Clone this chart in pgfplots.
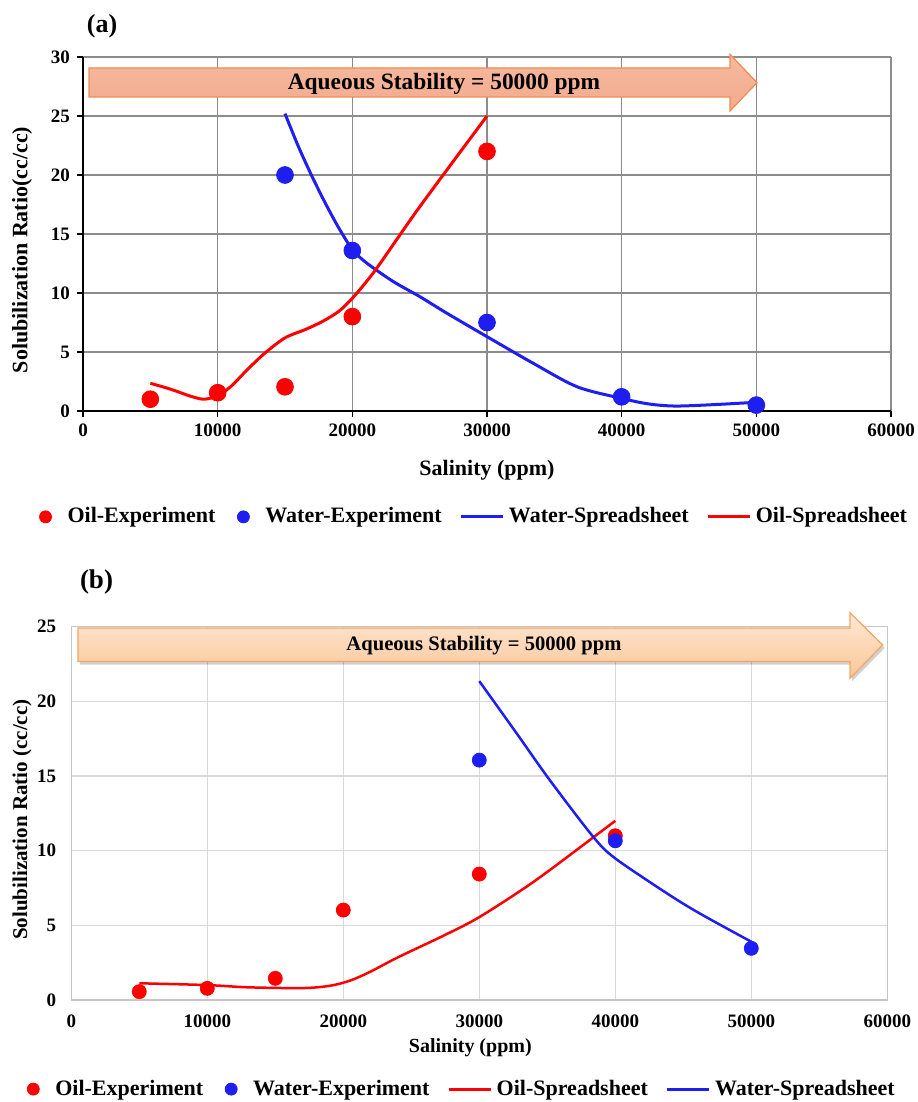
\documentclass[border=0pt]{standalone}
\usepackage{fontspec}
\setmainfont{Liberation Serif}
\usepackage{pgfplots}
\pgfplotsset{compat=1.18}

\definecolor{oilred}{RGB}{255,0,0}
\definecolor{wblue}{RGB}{30,30,240}
\definecolor{gridA}{RGB}{140,140,140}
\definecolor{gridB}{RGB}{217,217,217}
\definecolor{arrAtop}{RGB}{246,186,160}
\definecolor{arrAbot}{RGB}{242,170,140}
\definecolor{arrAedge}{RGB}{240,140,80}
\definecolor{arrBtop}{RGB}{254,232,212}
\definecolor{arrBbot}{RGB}{250,198,152}
\definecolor{arrBedge}{RGB}{244,164,100}

\pgfplotsset{
  chartbase/.style={
    scale only axis, xmin=0, xmax=60000, ymin=0,
    xtick={0,10000,...,60000}, scaled x ticks=false,
    /pgf/number format/1000 sep={},
    /pgf/number format/assume math mode=true,
    tick label style={font=\fontsize{9.5}{11}\selectfont\bfseries},
    label style={font=\fontsize{11}{13}\selectfont\bfseries},
    legend columns=4,
    legend style={draw=none, fill=none, anchor=center,
      font=\fontsize{11}{13}\selectfont\bfseries,
      /tikz/every even column/.append style={column sep=7pt}},
  },
  lineleg/.style={legend image code/.code={\draw[##1, line width=1.6pt] (0pt,0pt) -- (21pt,0pt);}},
  dotleg/.style={legend image code/.code={\path[draw=none, fill=none] (0pt,0pt) -- (14pt,0pt);
    \draw[##1, mark size=3pt] plot coordinates {(5pt,0pt)};}},
}

\begin{document}
\begin{tikzpicture}
\useasboundingbox (0pt,0pt) rectangle (458.5pt,-551pt);

% ---------------- panel (a)
\begin{axis}[chartbase, at={(41.5pt,-205.5pt)}, anchor=south west,
  width=404pt, height=177pt, ymax=30, ytick={0,5,...,30},
  grid=major, major grid style={draw=gridA, line width=0.7pt},
  axis lines=left, axis line style={-, draw=black, line width=0.9pt},
  tick align=outside, major tick length=3pt, tick style={black, line width=0.8pt},
  xlabel={Salinity (ppm)}, ylabel={Solubilization Ratio(cc/cc)},
  xlabel style={at={(axis description cs:0.5,-0.167)}, anchor=center},
  ylabel style={at={(axis description cs:-0.0755,0.455)}, anchor=center},
  legend style={at={(axis description cs:0.483,-0.299)}}]
\addplot[only marks, mark=*, mark size=4.2pt, color=oilred, dotleg] coordinates {
  (5000,1.0) (10000,1.55) (15000,2.05) (20000,8.0) (30000,22.0)};
\addlegendentry{Oil-Experiment}
\addplot[only marks, mark=*, mark size=4.2pt, color=wblue, dotleg] coordinates {
  (15000,20.0) (20000,13.6) (30000,7.5) (40000,1.2) (50000,0.5)};
\addlegendentry{Water-Experiment}
\addplot[wblue, line width=1.5pt, smooth, tension=0.5, lineleg] coordinates {
  (15000,25.2) (16000,22.4) (17000,19.9) (18000,17.6) (19000,15.5)
  (20000,13.7) (21000,12.6) (23000,11.0) (25000,9.7) (27000,8.3)
  (30000,6.3) (33500,4.0) (36700,2.05) (40000,1.07) (42000,0.6)
  (44000,0.42) (47000,0.55) (50000,0.74)};
\addlegendentry{Water-Spreadsheet}
\addplot[oilred, line width=1.5pt, smooth, tension=0.5, lineleg] coordinates {
  (5000,2.35) (6500,1.85) (8000,1.25) (9000,1.0) (10000,1.3) (11000,2.1)
  (12200,3.5) (13500,4.9) (15000,6.2) (16500,6.9) (17800,7.6)
  (19000,8.45) (20000,9.55) (21000,10.9) (22000,12.4) (25000,17.3)
  (30000,25.0)};
\addlegendentry{Oil-Spreadsheet}
\end{axis}

% ---------------- panel (b)
\begin{axis}[chartbase, at={(35.65pt,-500pt)}, anchor=south west,
  width=408pt, height=186.7pt, ymax=25, ytick={0,5,...,25},
  grid=major, major grid style={draw=gridB, line width=0.6pt},
  axis line style={draw=black!22, line width=0.6pt}, major tick length=0pt,
  xticklabel style={yshift=-4pt}, yticklabel style={xshift=-4pt},
  xlabel={Salinity (ppm)}, ylabel={Solubilization Ratio (cc/cc)},
  xlabel style={at={(axis description cs:0.489,-0.1286)}, anchor=center,
    font=\fontsize{10}{12}\selectfont\bfseries},
  ylabel style={at={(axis description cs:-0.0604,0.483)}, anchor=center,
    font=\fontsize{10.5}{12}\selectfont\bfseries},
  legend style={at={(axis description cs:0.4776,-0.2386)}}]
\addplot[only marks, mark=*, mark size=3.5pt, color=oilred, dotleg] coordinates {
  (5000,0.56) (10000,0.78) (15000,1.45) (20000,6.02) (30000,8.43) (40000,11.0)};
\addlegendentry{Oil-Experiment}
\addplot[only marks, mark=*, mark size=3.5pt, color=wblue, dotleg] coordinates {
  (30000,16.06) (40000,10.66) (50000,3.46)};
\addlegendentry{Water-Experiment}
\addplot[oilred, line width=1.25pt, smooth, tension=0.5, lineleg] coordinates {
  (5000,1.12) (10000,1.0) (13000,0.85) (17000,0.8) (19000,0.95)
  (20500,1.3) (22000,1.9) (24000,2.85) (27350,4.3) (30000,5.55)
  (34000,7.92) (38400,10.9) (40000,12.0)};
\addlegendentry{Oil-Spreadsheet}
\addplot[wblue, line width=1.25pt, smooth, tension=0.5, lineleg] coordinates {
  (30000,21.35) (32750,17.85) (35200,14.7) (38400,10.9) (40000,9.48)
  (43800,7.14) (46200,5.8) (50000,3.9)};
\addlegendentry{Water-Spreadsheet}
\end{axis}

% arrows
\draw[draw=arrAedge, line width=0.6pt, top color=arrAtop, bottom color=arrAbot]
  (44.5pt,-34pt) -- (365pt,-34pt) -- (365pt,-27.15pt) -- (378.5pt,-41.35pt)
  -- (365pt,-55.5pt) -- (365pt,-48.5pt) -- (44.5pt,-48.5pt) -- cycle;
\node[font=\fontsize{11.7}{14}\selectfont\bfseries] at (222pt,-42pt)
  {Aqueous Stability = 50000 ppm};

\fill[black, opacity=0.18]
  (40pt,-315.5pt) -- (426pt,-315.5pt) -- (426pt,-307.85pt) -- (442.35pt,-324pt)
  -- (426pt,-340.65pt) -- (426pt,-332.25pt) -- (40pt,-332.25pt) -- cycle;
\draw[draw=arrBedge, line width=0.6pt, top color=arrBtop, bottom color=arrBbot]
  (39pt,-314pt) -- (425pt,-314pt) -- (425pt,-306.35pt) -- (441.35pt,-322.5pt)
  -- (425pt,-339.15pt) -- (425pt,-330.75pt) -- (39pt,-330.75pt) -- cycle;
\node[font=\fontsize{10.3}{12}\selectfont\bfseries] at (242pt,-323pt)
  {Aqueous Stability = 50000 ppm};

\node[font=\fontsize{13}{15}\selectfont\bfseries] at (51pt,-13pt) {(a)};
\node[font=\fontsize{13.5}{15}\selectfont\bfseries] at (48.25pt,-291pt) {(b)};
\end{tikzpicture}
\end{document}
